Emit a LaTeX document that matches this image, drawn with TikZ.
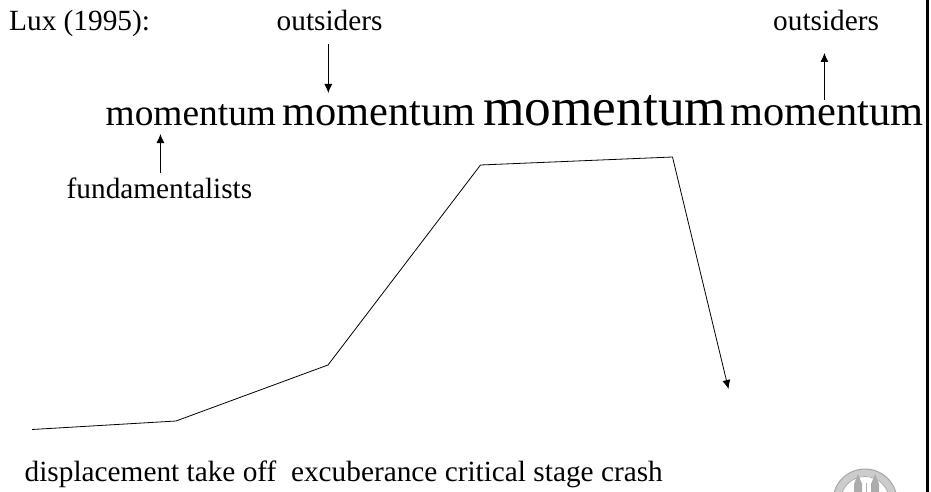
\documentclass[tikz,border=0pt]{standalone}
\usepackage{fontspec}
\setmainfont{Liberation Serif}
\usetikzlibrary{arrows.meta}
\tikzset{
 lbl/.style={inner sep=0pt,anchor=base west,font=\fontsize{#1}{#1}\selectfont},
 arr/.style={-{Latex[length=9pt,width=8pt]},line width=0.8pt},
 curve/.style={line width=0.8pt,line join=miter,-{Latex[length=9pt,width=8pt]}}
}
\begin{document}
\begin{tikzpicture}[x=1pt,y=-1pt]
\useasboundingbox (0,0) rectangle (931,492);
\fill[white] (0,0) rectangle (931,492);
\node[lbl=29.3] (lux) at (9,30.5) {Lux (1995):};
\node[lbl=29.3] (o1) at (276.5,30.5) {outsiders};
\node[lbl=29.3] (o2) at (773,30.5) {outsiders};
\node[lbl=37.4] (m1) at (105.5,126) {momentum};
\node[lbl=42.4] (m2) at (282.5,126) {momentum};
\node[lbl=53.4] (m3) at (483,126) {momentum};
\node[lbl=42.4] (m4) at (730,126) {momentum};
\node[lbl=29.3] (f) at (66.5,198) {fundamentalists};
\node[lbl=29.3] (d) at (24.5,481) {displacement take off\ \ excuberance critical stage crash};
\coordinate (a1s) at (328.3,44); \coordinate (a1e) at (328.3,93);
\coordinate (a2s) at (824.4,100); \coordinate (a2e) at (824.4,53);
\coordinate (a3s) at (160.4,173); \coordinate (a3e) at (160.4,134);
\draw[arr] (a1s) -- (a1e);
\draw[arr] (a2s) -- (a2e);
\draw[arr] (a3s) -- (a3e);
\coordinate (c1) at (32,429.5); \coordinate (c2) at (176,421); \coordinate (c3) at (328,365);
\coordinate (c4) at (480.5,165); \coordinate (c5) at (672.5,157); \coordinate (c6) at (728.5,389);
\draw[curve] (c1) -- (c2) -- (c3) -- (c4) -- (c5) -- (c6);
\fill[black] (926,0) rectangle (928.5,492);
\begin{scope}
\clip (825,465) rectangle (905,492);
\draw[gray!40,line width=7pt] (865,501) circle (28.5);
\draw[gray!70,line width=1pt] (865,501) circle (32);
\draw[gray!70,line width=0.8pt] (865,501) circle (24.5);
\fill[gray!65] (854,484) -- (858,474) -- (862,484) -- (862,492) -- (854,492) -- cycle;
\fill[gray!65] (871,484) -- (875,474) -- (879,484) -- (879,492) -- (871,492) -- cycle;
\draw[gray!60,line width=0.8pt] (866,483) -- (866,492);
\end{scope}
\end{tikzpicture}
\end{document}
